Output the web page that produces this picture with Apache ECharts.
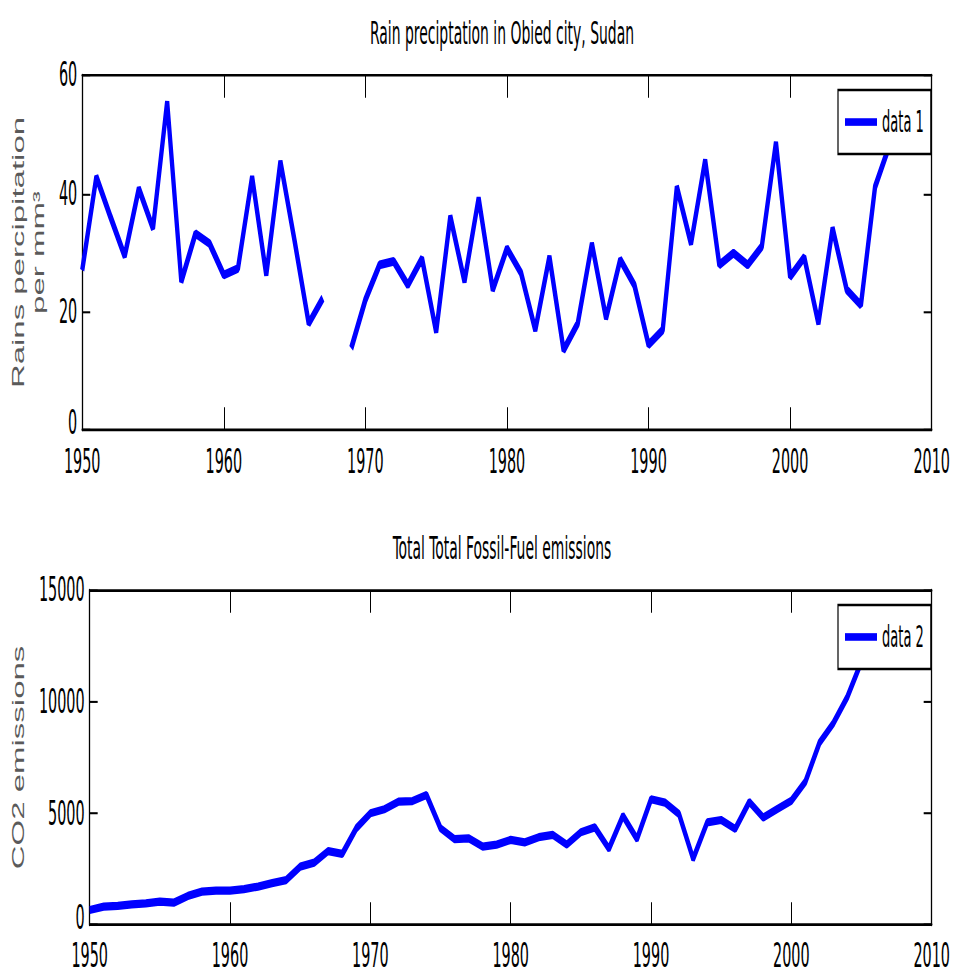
<!DOCTYPE html>
<html>
<head>
<meta charset="utf-8">
<script src="https://cdn.jsdelivr.net/npm/echarts@6/dist/echarts.min.js"></script>
<style>
  html, body { margin: 0; padding: 0; background: #fff; overflow: hidden; }
  #wrap { width: 953px; height: 973px; overflow: hidden; }
  #chart { width: 953px; height: 472px; transform-origin: 0 0; transform: scaleY(2.0614); }
</style>
</head>
<body>
<div id="wrap"><div id="chart"></div></div>
<script>
// ---- data ----
const rainYears = [1950,1951,1952,1953,1954,1955,1956,1957,1958,1959,1960,1961,1962,1963,1964,1965,1966,1967,1968,1969,
  1970,1971,1972,1973,1974,1975,1976,1977,1978,1979,1980,1981,1982,1983,1984,1985,1986,1987,1988,1989,
  1990,1991,1992,1993,1994,1995,1996,1997,1998,1999,2000,2001,2002,2003,2004,2005,2006,2007];
const rainValues = [27.0,42.8,36.0,29.4,40.8,34.1,55.5,25.1,33.2,31.5,26.2,27.3,42.8,26.2,45.4,32.0,18.0,22.3,null,13.8,
  22.0,27.9,28.5,24.5,29.0,16.6,36.1,25.1,39.2,23.7,30.7,26.5,16.9,29.3,13.5,18.0,31.5,18.9,28.8,24.5,
  14.4,16.9,41.1,31.5,45.6,27.9,29.9,27.9,31.0,48.6,25.9,29.2,18.0,34.1,23.7,21.1,41.1,48.0];

const co2Years = [1950,1951,1952,1953,1954,1955,1956,1957,1958,1959,1960,1961,1962,1963,1964,1965,1966,1967,1968,1969,
  1970,1971,1972,1973,1974,1975,1976,1977,1978,1979,1980,1981,1982,1983,1984,1985,1986,1987,1988,1989,
  1990,1991,1992,1993,1994,1995,1996,1997,1998,1999,2000,2001,2002,2003,2004,2005];
const co2Values = [670,820,850,925,970,1045,1000,1300,1490,1540,1540,1600,1720,1870,2010,2610,2790,3310,3180,4330,
  5000,5180,5520,5550,5820,4330,3840,3880,3510,3600,3810,3700,3930,4030,3600,4150,4370,3410,4890,3850,
  5630,5480,4960,2960,4590,4700,4300,5510,4810,5190,5560,6410,8150,9040,10220,11800];

const xTicks = [1950, 1960, 1970, 1980, 1990, 2000, 2010];
const rainTicks = [0, 20, 40, 60];
const co2Ticks = [0, 5000, 10000, 15000];

const titles = ['Rain preciptation in Obied city, Sudan', 'Total Total Fossil-Fuel emissions'];
const yNames = ['Rains percipitation\nper mm\u00B3', 'CO2 emissions'];
const seriesNames = ['data 1', 'data 2'];

// ---- styling ----
const narrow = '"Liberation Sans Narrow", "Arial Narrow", "DejaVu Sans Condensed", "Liberation Sans", Arial, sans-serif';
const regular = '"Liberation Sans", Arial, Helvetica, sans-serif';
const blue = '#0000ff';
const plain = v => String(v);

function pairs(xs, ys) { return xs.map((x, i) => [x, ys[i] == null ? '-' : ys[i]]); }

const grids = [
  { left: 73.3, right: 20.7, top: 36.4, height: 172.2 },
  { left: 73.3, right: 20.7, top: 286.2, height: 162.5 }
];

function xAxes(gi, labelMargin) {
  const xmin = xTicks[0], xmax = xTicks[xTicks.length - 1], step = xTicks[1] - xTicks[0];
  const base = {
    type: 'value', gridIndex: gi, min: xmin, max: xmax, interval: step,
    axisLine: { show: true, onZero: false, lineStyle: { color: '#000', width: 1.3 } },
    axisTick: { show: true, inside: true, length: 11, lineStyle: { color: '#000', width: 1 } },
    splitLine: { show: false }
  };
  return [
    Object.assign({}, base, { position: 'bottom',
      axisLabel: { show: true, margin: labelMargin, color: '#000', fontFamily: narrow, fontSize: 16, lineHeight: 14,
        formatter: plain, showMinLabel: true, showMaxLabel: true } }),
    Object.assign({}, base, { position: 'top', axisLabel: { show: false } })
  ];
}

function yAxes(gi, ticks, name, nameGap) {
  const base = {
    type: 'value', gridIndex: gi, min: ticks[0], max: ticks[ticks.length - 1], interval: ticks[1] - ticks[0],
    axisLine: { show: true, onZero: false, lineStyle: { color: '#000', width: 1.3 } },
    axisTick: { show: true, inside: true, length: 8, lineStyle: { color: '#000', width: 1 } },
    splitLine: { show: false }
  };
  return [
    Object.assign({}, base, { position: 'left',
      name: name, nameLocation: 'middle', nameGap: nameGap,
      nameTextStyle: { color: '#5a5a5a', fontFamily: regular, fontSize: 16, fontWeight: 'normal', lineHeight: 20 },
      axisLabel: { show: true, margin: 5, color: '#000', fontFamily: narrow, fontSize: 16, lineHeight: 14,
        formatter: v => (v === ticks[0] ? '{z|' + v + '}' : String(v)),
        rich: { z: { color: '#000', fontFamily: narrow, fontSize: 16, lineHeight: 14, padding: [0, 0, 7, 0] } },
        showMinLabel: true, showMaxLabel: true } }),
    Object.assign({}, base, { position: 'right', axisLabel: { show: false } })
  ];
}

const legendBase = {
  orient: 'vertical', left: 838, icon: 'rect', itemWidth: 32, itemHeight: 3.7,
  padding: [6, 7, 6, 7], backgroundColor: '#fff', borderColor: '#000', borderWidth: 1.2, borderRadius: 0,
  textStyle: { color: '#000', fontFamily: narrow, fontSize: 14.5, lineHeight: 19 },
  itemStyle: { borderWidth: 0 }, selectedMode: false
};

const option = {
  animation: false,
  backgroundColor: '#fff',
  title: [
    { text: titles[0], left: 502, top: 8, textAlign: 'center', padding: 0,
      textStyle: { color: '#000', fontFamily: narrow, fontSize: 15.5, fontWeight: 'normal' } },
    { text: titles[1], left: 502, top: 258, textAlign: 'center', padding: 0,
      textStyle: { color: '#000', fontFamily: narrow, fontSize: 15.5, fontWeight: 'normal' } }
  ],
  legend: [
    Object.assign({}, legendBase, { top: 43.7, data: [seriesNames[0]] }),
    Object.assign({}, legendBase, { top: 293.5, data: [seriesNames[1]] })
  ],
  grid: grids,
  xAxis: [].concat(xAxes(0, 8.5), xAxes(1, 7.6)),
  yAxis: [].concat(yAxes(0, rainTicks, yNames[0], 19), yAxes(1, co2Ticks, yNames[1], 54)),
  series: [
    { name: seriesNames[0], type: 'line', xAxisIndex: 0, yAxisIndex: 0, data: pairs(rainYears, rainValues),
      symbol: 'none', connectNulls: false, lineStyle: { color: blue, width: 4.3 }, itemStyle: { color: blue } },
    { name: seriesNames[1], type: 'line', xAxisIndex: 2, yAxisIndex: 2, data: pairs(co2Years, co2Values),
      symbol: 'none', lineStyle: { color: blue, width: 4.0 }, itemStyle: { color: blue } }
  ]
};

const chart = echarts.init(document.getElementById('chart'), null, { renderer: 'svg', width: 953, height: 472 });
chart.setOption(option);
</script>
</body>
</html>
